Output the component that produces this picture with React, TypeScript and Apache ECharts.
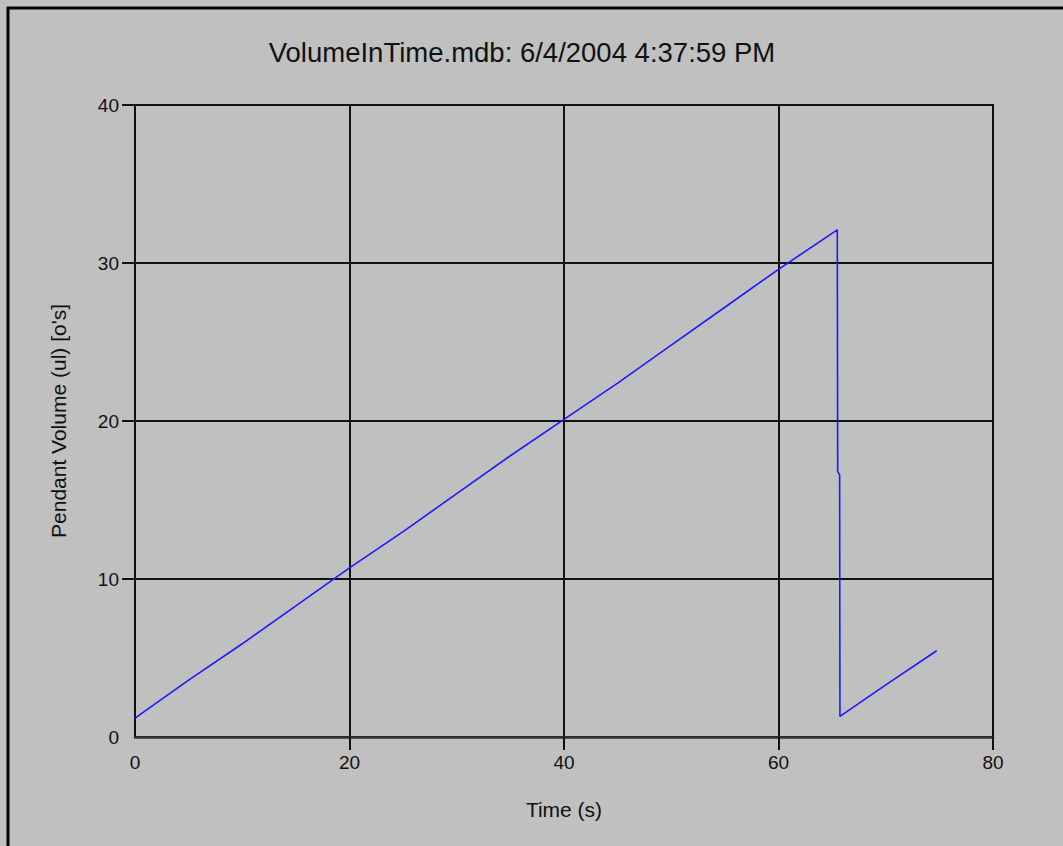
import React, { useEffect, useRef } from "react";
import * as echarts from "echarts";

const titleText = "VolumeInTime.mdb: 6/4/2004 4:37:59 PM";
const xAxisName = "Time (s)";
const yAxisName = "Pendant Volume (ul) [o's]";

const timeValues = [0, 5, 10, 15, 20, 25, 30, 35, 40, 45, 50, 55, 60, 65.48, 65.52, 65.7, 65.73, 70, 74.75];
const volumeValues = [1.2, 3.6, 5.9, 8.3, 10.7, 13.0, 15.4, 17.8, 20.1, 22.4, 24.8, 27.2, 29.6, 32.1, 16.8, 16.6, 1.3, 3.3, 5.46];

const xTicks = [20, 40, 60, 80];
const yTicks = [10, 20, 30, 40];

export default function App() {
  const ref = useRef<HTMLDivElement>(null);
  useEffect(() => {
    document.body.style.margin = "0";
    document.body.style.background = "#c0c0c0";
    const chart = echarts.init(ref.current!, null, { renderer: "svg" });
    const font = "'Liberation Sans', Arial, sans-serif";
    const data = timeValues.map((t, i) => [t, volumeValues[i]]);
    chart.setOption({
      animation: false,
      backgroundColor: "#c0c0c0",
      textStyle: { fontFamily: font },
      graphic: [
        { type: "line", shape: { x1: 8, y1: 7, x2: 8, y2: 846 }, style: { stroke: "#000", lineWidth: 3 } },
        { type: "line", shape: { x1: 7, y1: 8, x2: 1063, y2: 8 }, style: { stroke: "#000", lineWidth: 3 } },
        {
          type: "text",
          x: 522,
          y: 52,
          style: {
            text: titleText,
            fontFamily: font,
            fontSize: 27.5,
            fill: "#111",
            textAlign: "center",
            textVerticalAlign: "middle",
          },
        },
      ],
      grid: { left: 135, top: 105, right: 70, bottom: 109, show: true, borderColor: "#111", borderWidth: 2, containLabel: false },
      xAxis: {
        type: "value",
        min: 0,
        max: 80,
        interval: 20,
        name: xAxisName,
        nameLocation: "middle",
        nameGap: 62,
        nameTextStyle: { fontSize: 21, color: "#111", fontFamily: font },
        axisLine: { show: true, onZero: false, lineStyle: { color: "#333", width: 2.5 } },
        axisTick: { show: true, length: 13, customValues: xTicks, lineStyle: { color: "#111", width: 2 } },
        axisLabel: { margin: 16, fontSize: 19, color: "#111", fontFamily: font },
        splitLine: { show: true, lineStyle: { color: "#111", width: 2 } },
      },
      yAxis: {
        type: "value",
        min: 0,
        max: 40,
        interval: 10,
        name: yAxisName,
        nameLocation: "middle",
        nameGap: 66,
        nameTextStyle: { fontSize: 21, color: "#111", fontFamily: font },
        axisLine: { show: true, onZero: false, lineStyle: { color: "#111", width: 2 } },
        axisTick: { show: true, length: 13, customValues: yTicks, lineStyle: { color: "#111", width: 2 } },
        axisLabel: { margin: 16, fontSize: 19, color: "#111", fontFamily: font },
        splitLine: { show: true, lineStyle: { color: "#111", width: 2 } },
      },
      series: [
        {
          type: "line",
          data,
          showSymbol: false,
          symbol: "none",
          lineStyle: { color: "#1a1aff", width: 1.6 },
        },
      ],
    });
    return () => chart.dispose();
  }, []);
  return <div ref={ref} style={{ position: "absolute", left: 0, top: 0, width: 1063, height: 846 }} />;
}
